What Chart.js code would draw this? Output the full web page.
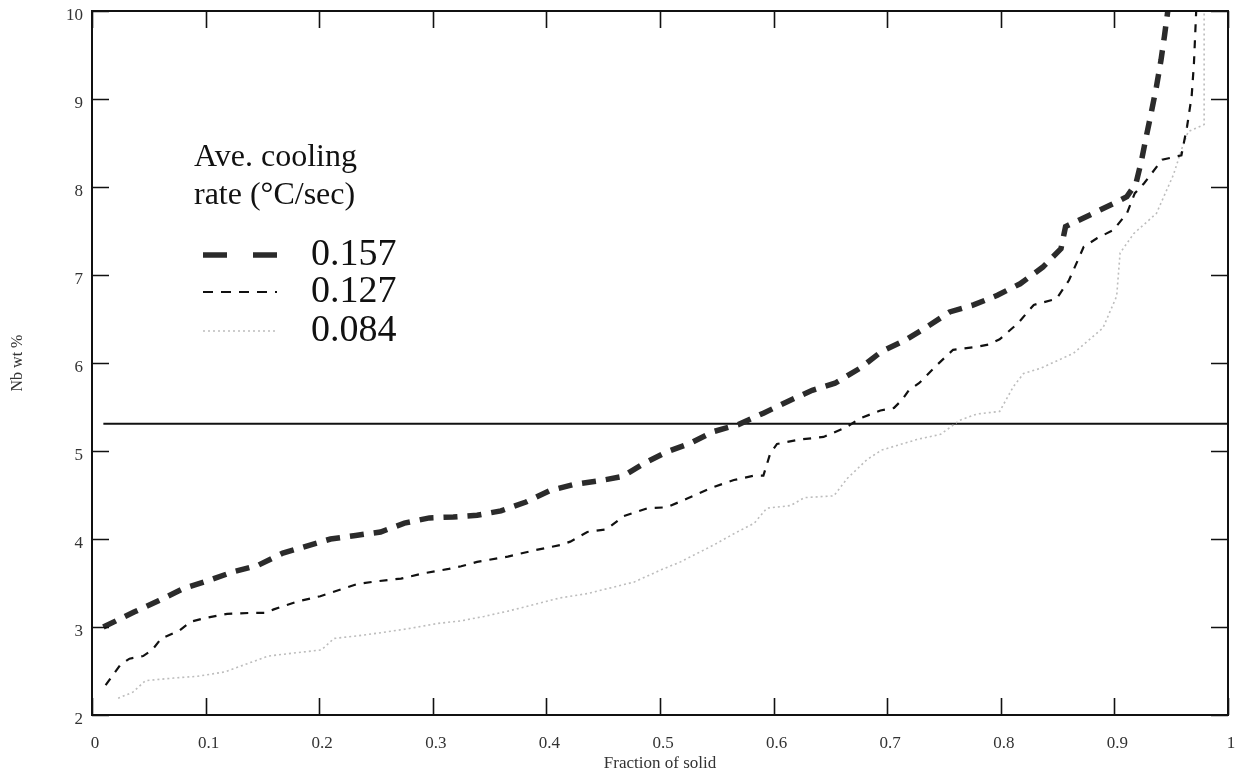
<!DOCTYPE html>
<html>
<head>
<meta charset="utf-8">
<script src="https://cdn.jsdelivr.net/npm/chart.js@4.4.0/dist/chart.umd.min.js"></script>
<style>
  html, body { margin: 0; padding: 0; background: #fff; }
  #wrap { width: 1236px; height: 774px; position: relative; }
</style>
</head>
<body>
<div id="wrap"><canvas id="chart"></canvas></div>
<script>
// Tick labels
const xTickLabels = ['0', '0.1', '0.2', '0.3', '0.4', '0.5', '0.6', '0.7', '0.8', '0.9', '1'];
const yTickLabels = ['2', '3', '4', '5', '6', '7', '8', '9', '10'];

// Ave. cooling rate 0.157 C/sec
const rate157X = [0.010, 0.037, 0.059, 0.081, 0.103, 0.125, 0.146, 0.168, 0.189, 0.210, 0.232, 0.254, 0.275, 0.297, 0.318, 0.339, 0.360,
  0.382, 0.403, 0.424, 0.446, 0.467, 0.486, 0.506, 0.527, 0.547, 0.569, 0.591, 0.612, 0.634, 0.654, 0.676, 0.695, 0.716,
  0.735, 0.755, 0.776, 0.797, 0.817, 0.837, 0.853, 0.857, 0.878, 0.899, 0.911, 0.919, 0.924, 0.928, 0.933, 0.937, 0.941, 0.944, 0.947];
const rate157Y = [3.00, 3.17, 3.30, 3.44, 3.53, 3.63, 3.70, 3.84, 3.92, 4.00, 4.04, 4.08, 4.18, 4.24, 4.25, 4.27, 4.32,
  4.42, 4.55, 4.62, 4.66, 4.71, 4.86, 4.99, 5.09, 5.22, 5.30, 5.43, 5.56, 5.69, 5.77, 5.94, 6.13, 6.26,
  6.41, 6.58, 6.66, 6.77, 6.90, 7.09, 7.30, 7.55, 7.68, 7.81, 7.89, 8.04, 8.31, 8.57, 8.88, 9.14, 9.44, 9.71, 10.0];

// Ave. cooling rate 0.127 C/sec
const rate127X = [0.012, 0.025, 0.033, 0.045, 0.053, 0.061, 0.077, 0.087, 0.099, 0.119, 0.140, 0.152, 0.160, 0.181, 0.201, 0.222, 0.234,
  0.251, 0.272, 0.292, 0.314, 0.325, 0.339, 0.366, 0.389, 0.412, 0.421, 0.436, 0.453, 0.468, 0.489, 0.506, 0.524, 0.547,
  0.565, 0.583, 0.591, 0.597, 0.603, 0.623, 0.644, 0.664, 0.676, 0.694, 0.706, 0.713, 0.719, 0.728, 0.744, 0.758, 0.777,
  0.789, 0.799, 0.815, 0.829, 0.849, 0.860, 0.873, 0.885, 0.899, 0.911, 0.918, 0.926, 0.942, 0.959, 0.964, 0.968, 0.970, 0.972];
const rate127Y = [2.34, 2.57, 2.64, 2.67, 2.74, 2.87, 2.96, 3.06, 3.10, 3.15, 3.16, 3.16, 3.20, 3.29, 3.35, 3.44, 3.49,
  3.52, 3.55, 3.61, 3.66, 3.69, 3.74, 3.80, 3.87, 3.93, 3.97, 4.08, 4.11, 4.26, 4.35, 4.36, 4.46, 4.59,
  4.67, 4.72, 4.72, 4.97, 5.08, 5.13, 5.16, 5.27, 5.37, 5.46, 5.49, 5.58, 5.69, 5.77, 5.98, 6.15, 6.18,
  6.21, 6.27, 6.45, 6.66, 6.73, 6.94, 7.32, 7.42, 7.51, 7.70, 7.93, 8.04, 8.31, 8.36, 8.69, 9.03, 9.40, 10.0];

// Ave. cooling rate 0.084 C/sec
const rate084X = [0.023, 0.036, 0.047, 0.072, 0.093, 0.117, 0.134, 0.155, 0.175, 0.202, 0.213, 0.234, 0.257, 0.278, 0.304, 0.325, 0.345,
  0.366, 0.412, 0.436, 0.477, 0.501, 0.518, 0.547, 0.565, 0.583, 0.594, 0.615, 0.627, 0.653, 0.665, 0.682, 0.695, 0.726,
  0.747, 0.764, 0.779, 0.799, 0.811, 0.820, 0.835, 0.864, 0.881, 0.890, 0.902, 0.905, 0.917, 0.937, 0.952, 0.960, 0.965, 0.979, 0.979];
const rate084Y = [2.19, 2.26, 2.39, 2.42, 2.44, 2.49, 2.57, 2.67, 2.70, 2.74, 2.87, 2.90, 2.94, 2.98, 3.04, 3.07, 3.12,
  3.18, 3.33, 3.38, 3.51, 3.65, 3.74, 3.93, 4.06, 4.18, 4.35, 4.38, 4.47, 4.49, 4.69, 4.90, 5.01, 5.13,
  5.19, 5.35, 5.42, 5.45, 5.73, 5.88, 5.94, 6.11, 6.30, 6.40, 6.76, 7.25, 7.47, 7.70, 8.14, 8.46, 8.63, 8.71, 10.0];

// Horizontal reference line
const refLineX = [0.01, 1.0];
const refLineY = [5.31, 5.31];

// Legend entries
const legendTitle = ['Ave. cooling', 'rate (\u00B0C/sec)'];
const legendLabels = ['0.157', '0.127', '0.084'];

const SERIF = "'Liberation Serif', 'Times New Roman', serif";

function toPoints(xs, ys) {
    return xs.map((x, i) => ({ x: x, y: ys[i] }));
}

const styles157 = { color: '#2b2b2b', width: 5.5, dash: [14, 10] };
const styles127 = { color: '#111', width: 2.2, dash: [8, 8] };
const styles084 = { color: '#bdbdbd', width: 1.6, dash: [2, 3] };

function seriesSet(label, xs, ys, s) {
    return {
        label: label,
        data: toPoints(xs, ys),
        borderColor: s.color,
        borderWidth: s.width,
        borderDash: s.dash,
        pointRadius: 0,
        tension: 0,
        fill: false
    };
}

// Inward ticks on all four sides plus the frame
const frameTicks = {
    id: 'frameTicks',
    afterDatasetsDraw(chart) {
        const { ctx, chartArea: a, scales: { x, y } } = chart;
        const len = 17;
        ctx.save();
        ctx.strokeStyle = '#111';
        ctx.lineWidth = 1.6;
        ctx.beginPath();
        x.ticks.forEach(t => {
            const px = Math.round(x.getPixelForValue(t.value)) + 0.5;
            ctx.moveTo(px, a.bottom); ctx.lineTo(px, a.bottom - len);
            ctx.moveTo(px, a.top); ctx.lineTo(px, a.top + len);
        });
        y.ticks.forEach(t => {
            const py = Math.round(y.getPixelForValue(t.value)) + 0.5;
            ctx.moveTo(a.left, py); ctx.lineTo(a.left + len, py);
            ctx.moveTo(a.right, py); ctx.lineTo(a.right - len, py);
        });
        ctx.stroke();
        ctx.lineWidth = 2;
        ctx.strokeRect(a.left, a.top, a.right - a.left, a.bottom - a.top);
        ctx.restore();
    }
};

// Legend drawn inside the plot
const insideLegend = {
    id: 'insideLegend',
    afterDraw(chart) {
        const ctx = chart.ctx;
        ctx.save();
        ctx.fillStyle = '#111';
        ctx.textBaseline = 'middle';
        ctx.textAlign = 'left';
        ctx.font = '32px ' + SERIF;
        ctx.fillText(legendTitle[0], 194, 158);
        ctx.fillText(legendTitle[1], 194, 196);

        const rows = [
            { y: 255, s: styles157, dash: [24, 26] },
            { y: 292, s: styles127, dash: [10, 8] },
            { y: 331, s: styles084, dash: [2, 3] }
        ];
        ctx.font = '38px ' + SERIF;
        rows.forEach((r, i) => {
            ctx.strokeStyle = r.s.color;
            ctx.lineWidth = r.s.width;
            ctx.setLineDash(r.dash);
            ctx.beginPath();
            ctx.moveTo(203, r.y);
            ctx.lineTo(277, r.y);
            ctx.stroke();
            ctx.fillText(legendLabels[i], 311, r.y);
        });
        ctx.restore();
    }
};

new Chart(document.getElementById('chart'), {
    type: 'line',
    data: {
        datasets: [
            seriesSet('0.157', rate157X, rate157Y, styles157),
            seriesSet('0.127', rate127X, rate127Y, styles127),
            seriesSet('0.084', rate084X, rate084Y, styles084),
            {
                label: 'ref',
                data: toPoints(refLineX, refLineY),
                borderColor: '#111',
                borderWidth: 2,
                pointRadius: 0,
                fill: false
            }
        ]
    },
    options: {
        responsive: true,
        maintainAspectRatio: false,
        animation: false,
        layout: { padding: { top: 11, right: 8, left: 0, bottom: 0 } },
        plugins: {
            legend: { display: false },
            tooltip: { enabled: false }
        },
        scales: {
            x: {
                type: 'linear',
                min: 0,
                max: 1,
                grid: { display: false, drawTicks: false },
                border: { display: false },
                ticks: {
                    stepSize: 0.1,
                    autoSkip: false,
                    maxRotation: 0,
                    padding: 18,
                    labelOffset: 3,
                    color: '#333',
                    font: { family: SERIF, size: 17 },
                    callback: (v, i) => xTickLabels[i]
                },
                title: {
                    display: true,
                    text: 'Fraction of solid',
                    color: '#333',
                    font: { family: SERIF, size: 17 },
                    padding: { top: 0, bottom: 0 }
                },
                afterFit: (scale) => {
                    scale.height = 59;
                    scale.paddingLeft = 0;
                    scale.paddingRight = 0;
                }
            },
            y: {
                min: 2,
                max: 10,
                grid: { display: false, drawTicks: false },
                border: { display: false },
                ticks: {
                    stepSize: 1,
                    autoSkip: false,
                    padding: 9,
                    labelOffset: 5,
                    color: '#333',
                    font: { family: SERIF, size: 17 },
                    callback: (v, i) => yTickLabels[i]
                },
                title: {
                    display: true,
                    text: 'Nb wt %',
                    color: '#333',
                    font: { family: SERIF, size: 16 },
                    padding: { top: 8, bottom: 0 }
                },
                afterFit: (scale) => {
                    scale.width = 92;
                    scale.paddingTop = 0;
                    scale.paddingBottom = 0;
                }
            }
        }
    },
    plugins: [frameTicks, insideLegend]
});
</script>
</body>
</html>
